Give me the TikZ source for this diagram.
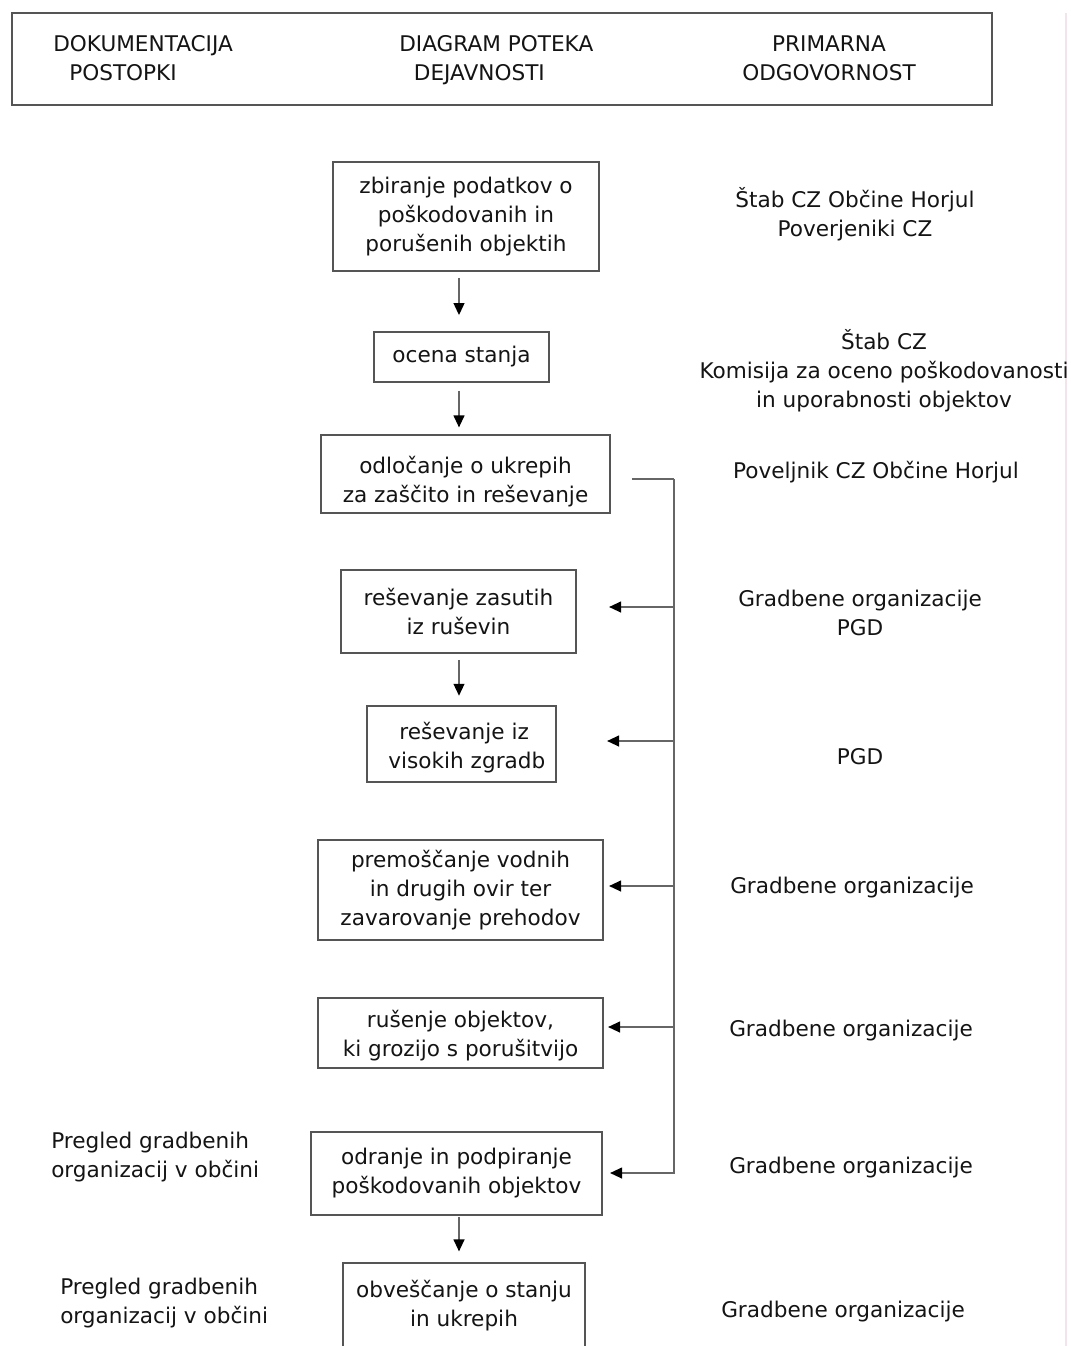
\documentclass[tikz,border=0pt]{standalone}
\usepackage{fontspec}
\setmainfont{DejaVu Sans}
\usetikzlibrary{arrows.meta}
\definecolor{txt}{HTML}{141414}
\definecolor{boxc}{HTML}{555555}
\definecolor{linec}{HTML}{666666}
\definecolor{edgec}{HTML}{F2E4EA}
\begin{document}
\begin{tikzpicture}[x=0.75pt,y=-0.75pt,
  every node/.style={font=\fontsize{16.2pt}{21.75pt}\selectfont, text=txt},
  sz/.style 2 args={minimum width=#1*0.75pt, minimum height=#2*0.75pt},
  box/.style={draw=boxc, line width=1.3pt, align=center, inner sep=0pt},
  lbl/.style={align=center, inner sep=0pt},
  ln/.style={draw=linec, line width=1.5pt},
  arr/.style={ln, -{Triangle[length=9pt,width=8pt,color=black]}}]
\fill[white] (0,0) rectangle (1071,1346);
\clip (0,0) rectangle (1071,1346);
\draw[edgec, line width=1pt] (1066,13) -- (1066,1346);

% header
\node[box, sz={980}{92}] (hdr) at (502,59) {};
\node[lbl, align=left, anchor=west] (h1) at (53,58.5) {DOKUMENTACIJA\\\hspace*{12pt}POSTOPKI};
\node[lbl, align=left, anchor=west] (h2) at (399,60.5) {DIAGRAM POTEKA\\\hspace*{11pt}DEJAVNOSTI};
\node[lbl] (h3) at (829,58.5) {PRIMARNA\\ODGOVORNOST};

% flow boxes
\node[box, sz={266}{109}] (b1) at (466,216.5) {zbiranje podatkov o\\poškodovanih in\\porušenih objektih};
\node[box, sz={175}{50}] (b2) at (461.5,357) {ocena stanja};
\node[box, sz={289}{78}] (b3) at (465.5,474) {\rule{0pt}{24pt}odločanje o ukrepih\\za zaščito in reševanje};
\node[box, sz={235}{83}] (b4) at (458.5,611.5) {reševanje zasutih\\iz ruševin};
\node[box, sz={189}{76}] (b5) at (461.5,744) {\rule{0pt}{18pt}\hspace*{4pt}reševanje iz\\\hspace*{8pt}visokih zgradb};
\node[box, sz={285}{100}] (b6) at (460.5,890) {premoščanje vodnih\\in drugih ovir ter\\zavarovanje prehodov};
\node[box, sz={285}{70}] (b7) at (460.5,1033) {\rule{0pt}{16.5pt}rušenje objektov,\\ki grozijo s porušitvijo};
\node[box, sz={291}{83}] (b8) at (456.5,1173.5) {odranje in podpiranje\\poškodovanih objektov};
\node[box, sz={242}{86}] (b9) at (464,1306) {obveščanje o stanju\\in ukrepih};

% vertical arrows
\coordinate (ax) at (459,0);
\draw[arr, shorten <=4.5pt, shorten >=12pt] (b1.south -| ax) -- (b2.north -| ax);
\draw[arr, shorten <=6pt, shorten >=5pt] (b2.south -| ax) -- (b3.north -| ax);
\draw[arr, shorten <=4.5pt, shorten >=7pt] (b4.south -| ax) -- (b5.north -| ax);
\draw[arr, shorten <=1pt, shorten >=8pt] (b8.south -| ax) -- (b9.north -| ax);

% bus
\coordinate (bus) at (674,479);
\coordinate (t4) at (609,607);
\coordinate (t5) at (607,741);
\coordinate (t6) at (609,886);
\coordinate (t7) at (608,1027);
\coordinate (t8) at (610,1173);
\draw[ln, shorten <=15.75pt] (b3.east |- bus) -- (bus);
\draw[arr] (bus) |- (t8);
\draw[arr] (bus |- t4) -- (t4);
\draw[arr] (bus |- t5) -- (t5);
\draw[arr] (bus |- t6) -- (t6);
\draw[arr] (bus |- t7) -- (t7);

% responsibility
\node[lbl] (r1) at (855,214.5) {Štab CZ Občine Horjul\\Poverjeniki CZ};
\node[lbl] (r2) at (884,370.5) {Štab CZ\\Komisija za oceno poškodovanosti\\in uporabnosti objektov};
\node[lbl] (r3) at (876,472) {Poveljnik CZ Občine Horjul};
\node[lbl] (r4) at (860,613) {Gradbene organizacije\\PGD};
\node[lbl] (r5) at (860,757) {PGD};
\node[lbl] (r6) at (852,887.5) {Gradbene organizacije};
\node[lbl] (r7) at (851,1030.5) {Gradbene organizacije};
\node[lbl] (r8) at (851,1167.5) {Gradbene organizacije};
\node[lbl] (r9) at (843,1311.5) {Gradbene organizacije};

% documentation
\node[lbl, align=left, anchor=west] (l1) at (51,1157.5) {Pregled gradbenih\\organizacij v občini};
\node[lbl, align=left, anchor=west] (l2) at (60,1303.5) {Pregled gradbenih\\organizacij v občini};
\end{tikzpicture}
\end{document}
